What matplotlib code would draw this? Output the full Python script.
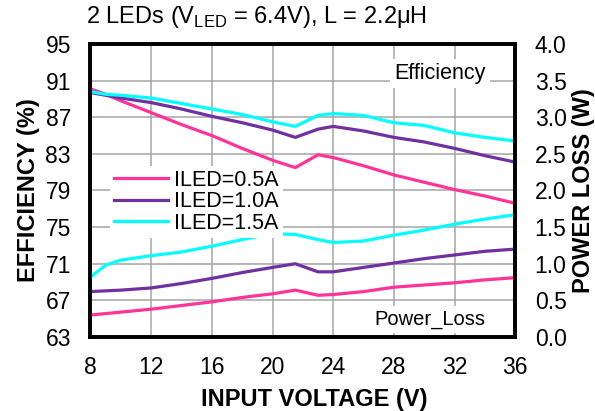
import matplotlib.pyplot as plt

plt.rcParams['font.family'] = ['Liberation Sans', 'DejaVu Sans']

# input voltage (V)
vin = [8, 9, 10, 12, 14, 16, 18, 20, 21.5, 23, 24, 26, 28, 30, 32, 34, 36]

# efficiency (%)
eff_05 = [90.1, 89.5, 88.8, 87.5, 86.2, 85.0, 83.6, 82.3, 81.5, 82.9, 82.6, 81.7, 80.7, 79.9, 79.1, 78.4, 77.6]
eff_10 = [89.7, 89.4, 89.1, 88.6, 87.9, 87.1, 86.4, 85.6, 84.8, 85.7, 86.0, 85.5, 84.8, 84.3, 83.6, 82.8, 82.1]
eff_15 = [89.8, 89.5, 89.4, 89.1, 88.5, 87.9, 87.3, 86.5, 86.0, 87.2, 87.4, 87.2, 86.4, 86.1, 85.3, 84.8, 84.4]

# power loss (W)
pl_05 = [0.30, 0.32, 0.34, 0.38, 0.43, 0.48, 0.54, 0.59, 0.64, 0.57, 0.58, 0.62, 0.68, 0.71, 0.74, 0.78, 0.81]
pl_10 = [0.62, 0.63, 0.64, 0.67, 0.73, 0.80, 0.88, 0.95, 1.00, 0.89, 0.89, 0.95, 1.01, 1.07, 1.12, 1.17, 1.20]
pl_15 = [0.82, 0.98, 1.05, 1.11, 1.16, 1.24, 1.33, 1.41, 1.40, 1.33, 1.29, 1.31, 1.39, 1.46, 1.54, 1.61, 1.67]

labels = ['ILED=0.5A', 'ILED=1.0A', 'ILED=1.5A']
colors = ['#ff3399', '#7030a0', '#00ffff']

fig = plt.figure(figsize=(5.95, 4.11), dpi=100)
ax = fig.add_axes([0.152, 0.180, 0.714, 0.713])
ax2 = ax.twinx()

lw = 2.3
handles = []
for e, p, c, lab in zip([eff_05, eff_10, eff_15], [pl_05, pl_10, pl_15], colors, labels):
    h, = ax.plot(vin, e, color=c, lw=lw, solid_joinstyle='round', label=lab)
    ax2.plot(vin, p, color=c, lw=lw, solid_joinstyle='round')
    handles.append(h)

ax.set_xlim(8, 36)
ax.set_ylim(63, 95)
ax2.set_ylim(0, 4.0)
ax.set_xticks(range(8, 37, 4))
ax.set_yticks(range(63, 96, 4))
ax2.set_yticks([i * 0.5 for i in range(9)])
ax2.set_yticklabels([f'{i * 0.5:.1f}' for i in range(9)])

ax.grid(True, color='#a6a6a6', lw=1.1)
ax.set_axisbelow(True)
for a in (ax, ax2):
    a.tick_params(length=0, labelsize=16.5, pad=14)
    for s in a.spines.values():
        s.set_linewidth(2.6)
ax.tick_params(axis='x', pad=14)

ax.set_xlabel('INPUT VOLTAGE (V)', fontsize=17, fontweight='bold')
ax.xaxis.set_label_coords(0.526, -0.175)
ax.set_ylabel('EFFICIENCY (%)', fontsize=17, fontweight='bold', labelpad=4)
ax2.set_ylabel('POWER LOSS (W)', fontsize=17, fontweight='bold', labelpad=4)

fig.text(0.145, 0.958, r'2 LEDs (V$_{\mathregular{LED}}$ = 6.4V), L = 2.2$\mathregular{\mu}$H',
         fontsize=17, va='center', ha='left')

leg = ax2.legend(handles=handles, loc='upper left', bbox_to_anchor=(0.045, 0.585),
                 fontsize=15.5, frameon=True, handlelength=2.5, handletextpad=0.3,
                 labelspacing=0.02, borderpad=0.2, borderaxespad=0)
leg.get_frame().set_edgecolor('none')
leg.get_frame().set_facecolor('white')
leg.get_frame().set_alpha(1)

ax2.text(0.93, 0.90, 'Efficiency', transform=ax2.transAxes, fontsize=15.5,
         ha='right', va='center', bbox=dict(fc='white', ec='none', pad=3))
ax2.text(0.93, 0.06, 'Power_Loss', transform=ax2.transAxes, fontsize=14.5,
         ha='right', va='center', bbox=dict(fc='white', ec='none', pad=3))

fig.savefig('out.png', dpi=100)
